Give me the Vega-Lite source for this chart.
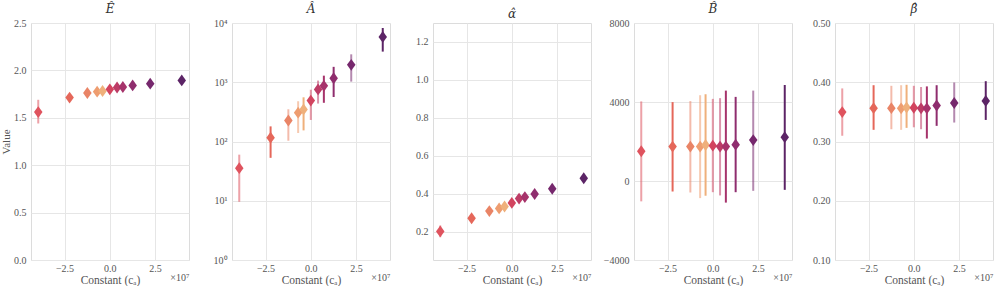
{
  "$schema": "https://vega.github.io/schema/vega-lite/v6.json",
  "padding": {"left": 0, "top": 2, "right": 0, "bottom": 0},
  "bounds": "flush",
  "spacing": 43,
  "data": {"values": [
    {"param":"E","run":1,"ca":-39500000,"value":1.56,"lo":1.44,"hi":1.69,"batch":"A"},
    {"param":"E","run":2,"ca":-22200000,"value":1.713,"lo":1.68,"hi":1.75,"batch":"B"},
    {"param":"E","run":3,"ca":-12400000,"value":1.762,"lo":1.73,"hi":1.79,"batch":"A"},
    {"param":"E","run":4,"ca":-7000000,"value":1.776,"lo":1.75,"hi":1.80,"batch":"A"},
    {"param":"E","run":5,"ca":-4000000,"value":1.783,"lo":1.76,"hi":1.81,"batch":"B"},
    {"param":"E","run":6,"ca":0,"value":1.80,"lo":1.78,"hi":1.82,"batch":"A"},
    {"param":"E","run":7,"ca":4000000,"value":1.82,"lo":1.80,"hi":1.84,"batch":"A"},
    {"param":"E","run":8,"ca":7200000,"value":1.825,"lo":1.80,"hi":1.85,"batch":"B"},
    {"param":"E","run":9,"ca":12600000,"value":1.842,"lo":1.82,"hi":1.87,"batch":"B"},
    {"param":"E","run":10,"ca":22300000,"value":1.86,"lo":1.84,"hi":1.89,"batch":"A"},
    {"param":"E","run":11,"ca":39700000,"value":1.894,"lo":1.87,"hi":1.92,"batch":"B"},
    {"param":"A","run":1,"ca":-39500000,"value":35.5,"lo":9.6,"hi":60,"batch":"A"},
    {"param":"A","run":2,"ca":-22200000,"value":116,"lo":53,"hi":180,"batch":"B"},
    {"param":"A","run":3,"ca":-12400000,"value":226,"lo":103,"hi":350,"batch":"A"},
    {"param":"A","run":4,"ca":-7000000,"value":307,"lo":139,"hi":478,"batch":"A"},
    {"param":"A","run":5,"ca":-4000000,"value":348,"lo":154,"hi":557,"batch":"B"},
    {"param":"A","run":6,"ca":0,"value":491,"lo":231,"hi":748,"batch":"A"},
    {"param":"A","run":7,"ca":4000000,"value":757,"lo":437,"hi":1067,"batch":"A"},
    {"param":"A","run":8,"ca":7200000,"value":871,"lo":450,"hi":1292,"batch":"B"},
    {"param":"A","run":9,"ca":12600000,"value":1170,"lo":564,"hi":1820,"batch":"B"},
    {"param":"A","run":10,"ca":22300000,"value":1967,"lo":1025,"hi":2960,"batch":"A"},
    {"param":"A","run":11,"ca":39700000,"value":5830,"lo":3290,"hi":8230,"batch":"B"},
    {"param":"alpha","run":1,"ca":-39500000,"value":0.2007,"lo":0.17,"hi":0.232,"batch":"A"},
    {"param":"alpha","run":2,"ca":-22200000,"value":0.27,"lo":0.255,"hi":0.285,"batch":"B"},
    {"param":"alpha","run":3,"ca":-12400000,"value":0.308,"lo":0.293,"hi":0.323,"batch":"A"},
    {"param":"alpha","run":4,"ca":-7000000,"value":0.322,"lo":0.307,"hi":0.337,"batch":"A"},
    {"param":"alpha","run":5,"ca":-4000000,"value":0.332,"lo":0.317,"hi":0.347,"batch":"B"},
    {"param":"alpha","run":6,"ca":0,"value":0.351,"lo":0.336,"hi":0.366,"batch":"A"},
    {"param":"alpha","run":7,"ca":4000000,"value":0.374,"lo":0.359,"hi":0.389,"batch":"A"},
    {"param":"alpha","run":8,"ca":7200000,"value":0.382,"lo":0.366,"hi":0.398,"batch":"B"},
    {"param":"alpha","run":9,"ca":12600000,"value":0.398,"lo":0.383,"hi":0.413,"batch":"B"},
    {"param":"alpha","run":10,"ca":22300000,"value":0.426,"lo":0.411,"hi":0.441,"batch":"A"},
    {"param":"alpha","run":11,"ca":39700000,"value":0.481,"lo":0.465,"hi":0.497,"batch":"B"},
    {"param":"B","run":1,"ca":-39500000,"value":1507,"lo":-1030,"hi":4030,"batch":"A"},
    {"param":"B","run":2,"ca":-22200000,"value":1741,"lo":-532,"hi":3995,"batch":"B"},
    {"param":"B","run":3,"ca":-12400000,"value":1741,"lo":-582,"hi":4045,"batch":"A"},
    {"param":"B","run":4,"ca":-7000000,"value":1741,"lo":-866,"hi":4343,"batch":"A"},
    {"param":"B","run":5,"ca":-4000000,"value":1821,"lo":-746,"hi":4393,"batch":"B"},
    {"param":"B","run":6,"ca":0,"value":1791,"lo":-567,"hi":4159,"batch":"A"},
    {"param":"B","run":7,"ca":4000000,"value":1741,"lo":-731,"hi":4194,"batch":"A"},
    {"param":"B","run":8,"ca":7200000,"value":1741,"lo":-1094,"hi":4577,"batch":"B"},
    {"param":"B","run":9,"ca":12600000,"value":1841,"lo":-567,"hi":4259,"batch":"B"},
    {"param":"B","run":10,"ca":22300000,"value":2070,"lo":-498,"hi":4577,"batch":"A"},
    {"param":"B","run":11,"ca":39700000,"value":2219,"lo":-448,"hi":4861,"batch":"B"},
    {"param":"beta","run":1,"ca":-39500000,"value":0.3497,"lo":0.3097,"hi":0.3896,"batch":"A"},
    {"param":"beta","run":2,"ca":-22200000,"value":0.3563,"lo":0.3197,"hi":0.395,"batch":"B"},
    {"param":"beta","run":3,"ca":-12400000,"value":0.3563,"lo":0.3207,"hi":0.394,"batch":"A"},
    {"param":"beta","run":4,"ca":-7000000,"value":0.356,"lo":0.3197,"hi":0.395,"batch":"A"},
    {"param":"beta","run":5,"ca":-4000000,"value":0.3574,"lo":0.323,"hi":0.3957,"batch":"B"},
    {"param":"beta","run":6,"ca":0,"value":0.357,"lo":0.324,"hi":0.394,"batch":"A"},
    {"param":"beta","run":7,"ca":4000000,"value":0.356,"lo":0.3207,"hi":0.392,"batch":"A"},
    {"param":"beta","run":8,"ca":7200000,"value":0.356,"lo":0.305,"hi":0.393,"batch":"B"},
    {"param":"beta","run":9,"ca":12600000,"value":0.3607,"lo":0.3264,"hi":0.395,"batch":"B"},
    {"param":"beta","run":10,"ca":22300000,"value":0.365,"lo":0.332,"hi":0.3996,"batch":"A"},
    {"param":"beta","run":11,"ca":39700000,"value":0.3685,"lo":0.3364,"hi":0.4018,"batch":"B"}
  ]},
  "hconcat": [
    {
      "width": 158, "height": 237,
      "title": {"text": "Ê"},
      "transform": [{"filter": "datum.param === 'E'"}],
      "encoding": {
        "x": {"field": "ca", "type": "quantitative",
          "scale": {"domain": [-43500000, 43700000], "nice": false, "zero": false},
          "axis": {"values": [-25000000, 0, 25000000, 43700000], "title": "Constant (cₐ)", "labelFlush": false, "labelOverlap": false,
            "labelExpr": "datum.value > 40000000 ? '×10⁷' : format(datum.value/1e7, '.1f')",
            "labelAlign": {"condition": {"test": "datum.value > 40000000", "value": "right"}, "value": "center"},
            "labelPadding": {"condition": {"test": "datum.value > 40000000", "value": 12}, "value": 3},
            "gridOpacity": {"condition": {"test": "datum.value > 40000000", "value": 0}, "value": 1}}},
        "color": {"field": "run", "type": "nominal", "legend": null,
          "scale": {"domain": [1,2,3,4,5,6,7,8,9,10,11], "range": ["#df535e","#e5675a","#e98466","#ee9d70","#efb07b","#d2445f","#bd3c66","#a6336b","#8f2d6e","#76286d","#5c2466"]}}
      },
      "layer": [
        {"mark": {"type": "rule", "strokeWidth": 2},
         "encoding": {
           "y": {"field": "lo", "type": "quantitative", "scale": {"domain": [0, 2.5], "nice": false, "zero": false},
             "axis": {"title": "Value", "values": [0, 0.5, 1, 1.5, 2, 2.5], "format": ".1f", "titlePadding": 2, "titleFontSize": 11}},
           "y2": {"field": "hi"},
           "opacity": {"field": "batch", "type": "nominal", "legend": null, "scale": {"domain": ["A", "B"], "range": [0.55, 1]}}}},
        {"mark": {"type": "point", "filled": true, "opacity": 1, "size": 140, "shape": "M0,-1L0.72,0L0,1L-0.72,0Z"},
         "encoding": {"y": {"field": "value", "type": "quantitative"}}}
      ]
    },
    {
      "width": 158, "height": 237,
      "title": {"text": "Â"},
      "transform": [{"filter": "datum.param === 'A'"}],
      "encoding": {
        "x": {"field": "ca", "type": "quantitative",
          "scale": {"domain": [-43500000, 43700000], "nice": false, "zero": false},
          "axis": {"values": [-25000000, 0, 25000000, 43700000], "title": "Constant (cₐ)", "labelFlush": false, "labelOverlap": false,
            "labelExpr": "datum.value > 40000000 ? '×10⁷' : format(datum.value/1e7, '.1f')",
            "labelAlign": {"condition": {"test": "datum.value > 40000000", "value": "right"}, "value": "center"},
            "labelPadding": {"condition": {"test": "datum.value > 40000000", "value": 12}, "value": 3},
            "gridOpacity": {"condition": {"test": "datum.value > 40000000", "value": 0}, "value": 1}}},
        "color": {"field": "run", "type": "nominal", "legend": null,
          "scale": {"domain": [1,2,3,4,5,6,7,8,9,10,11], "range": ["#df535e","#e5675a","#e98466","#ee9d70","#efb07b","#d2445f","#bd3c66","#a6336b","#8f2d6e","#76286d","#5c2466"]}}
      },
      "layer": [
        {"mark": {"type": "rule", "strokeWidth": 2},
         "encoding": {
           "y": {"field": "lo", "type": "quantitative", "scale": {"type": "log", "domain": [1, 10000], "nice": false},
             "axis": {"title": null, "values": [1, 10, 100, 1000, 10000], "labelOverlap": false,
               "labelExpr": "'10' + ['⁰','¹','²','³','⁴'][round(log(datum.value)/LN10)]"}},
           "y2": {"field": "hi"},
           "opacity": {"field": "batch", "type": "nominal", "legend": null, "scale": {"domain": ["A", "B"], "range": [0.55, 1]}}}},
        {"mark": {"type": "point", "filled": true, "opacity": 1, "size": 140, "shape": "M0,-1L0.72,0L0,1L-0.72,0Z"},
         "encoding": {"y": {"field": "value", "type": "quantitative"}}}
      ]
    },
    {
      "width": 158, "height": 237,
      "title": {"text": "α̂"},
      "transform": [{"filter": "datum.param === 'alpha'"}],
      "encoding": {
        "x": {"field": "ca", "type": "quantitative",
          "scale": {"domain": [-43500000, 43700000], "nice": false, "zero": false},
          "axis": {"values": [-25000000, 0, 25000000, 43700000], "title": "Constant (cₐ)", "labelFlush": false, "labelOverlap": false,
            "labelExpr": "datum.value > 40000000 ? '×10⁷' : format(datum.value/1e7, '.1f')",
            "labelAlign": {"condition": {"test": "datum.value > 40000000", "value": "right"}, "value": "center"},
            "labelPadding": {"condition": {"test": "datum.value > 40000000", "value": 12}, "value": 3},
            "gridOpacity": {"condition": {"test": "datum.value > 40000000", "value": 0}, "value": 1}}},
        "color": {"field": "run", "type": "nominal", "legend": null,
          "scale": {"domain": [1,2,3,4,5,6,7,8,9,10,11], "range": ["#df535e","#e5675a","#e98466","#ee9d70","#efb07b","#d2445f","#bd3c66","#a6336b","#8f2d6e","#76286d","#5c2466"]}}
      },
      "layer": [
        {"mark": {"type": "rule", "strokeWidth": 2},
         "encoding": {
           "y": {"field": "lo", "type": "quantitative", "scale": {"domain": [0.05, 1.3], "nice": false, "zero": false},
             "axis": {"title": null, "values": [0.2, 0.4, 0.6, 0.8, 1.0, 1.2], "format": ".1f"}},
           "y2": {"field": "hi"},
           "opacity": {"field": "batch", "type": "nominal", "legend": null, "scale": {"domain": ["A", "B"], "range": [0.55, 1]}}}},
        {"mark": {"type": "point", "filled": true, "opacity": 1, "size": 140, "shape": "M0,-1L0.72,0L0,1L-0.72,0Z"},
         "encoding": {"y": {"field": "value", "type": "quantitative"}}}
      ]
    },
    {
      "width": 158, "height": 237,
      "title": {"text": "B̂"},
      "transform": [{"filter": "datum.param === 'B'"}],
      "encoding": {
        "x": {"field": "ca", "type": "quantitative",
          "scale": {"domain": [-43500000, 43700000], "nice": false, "zero": false},
          "axis": {"values": [-25000000, 0, 25000000, 43700000], "title": "Constant (cₐ)", "labelFlush": false, "labelOverlap": false,
            "labelExpr": "datum.value > 40000000 ? '×10⁷' : format(datum.value/1e7, '.1f')",
            "labelAlign": {"condition": {"test": "datum.value > 40000000", "value": "right"}, "value": "center"},
            "labelPadding": {"condition": {"test": "datum.value > 40000000", "value": 12}, "value": 3},
            "gridOpacity": {"condition": {"test": "datum.value > 40000000", "value": 0}, "value": 1}}},
        "color": {"field": "run", "type": "nominal", "legend": null,
          "scale": {"domain": [1,2,3,4,5,6,7,8,9,10,11], "range": ["#df535e","#e5675a","#e98466","#ee9d70","#efb07b","#d2445f","#bd3c66","#a6336b","#8f2d6e","#76286d","#5c2466"]}}
      },
      "layer": [
        {"mark": {"type": "rule", "strokeWidth": 2},
         "encoding": {
           "y": {"field": "lo", "type": "quantitative", "scale": {"domain": [-4000, 8000], "nice": false, "zero": false},
             "axis": {"title": null, "values": [-4000, -2000, 0, 2000, 4000, 6000, 8000], "format": "d"}},
           "y2": {"field": "hi"},
           "opacity": {"field": "batch", "type": "nominal", "legend": null, "scale": {"domain": ["A", "B"], "range": [0.55, 1]}}}},
        {"mark": {"type": "point", "filled": true, "opacity": 1, "size": 140, "shape": "M0,-1L0.72,0L0,1L-0.72,0Z"},
         "encoding": {"y": {"field": "value", "type": "quantitative"}}}
      ]
    },
    {
      "width": 158, "height": 237,
      "title": {"text": "β̂"},
      "transform": [{"filter": "datum.param === 'beta'"}],
      "encoding": {
        "x": {"field": "ca", "type": "quantitative",
          "scale": {"domain": [-43500000, 43700000], "nice": false, "zero": false},
          "axis": {"values": [-25000000, 0, 25000000, 43700000], "title": "Constant (cₐ)", "labelFlush": false, "labelOverlap": false,
            "labelExpr": "datum.value > 40000000 ? '×10⁷' : format(datum.value/1e7, '.1f')",
            "labelAlign": {"condition": {"test": "datum.value > 40000000", "value": "right"}, "value": "center"},
            "labelPadding": {"condition": {"test": "datum.value > 40000000", "value": 12}, "value": 3},
            "gridOpacity": {"condition": {"test": "datum.value > 40000000", "value": 0}, "value": 1}}},
        "color": {"field": "run", "type": "nominal", "legend": null,
          "scale": {"domain": [1,2,3,4,5,6,7,8,9,10,11], "range": ["#df535e","#e5675a","#e98466","#ee9d70","#efb07b","#d2445f","#bd3c66","#a6336b","#8f2d6e","#76286d","#5c2466"]}}
      },
      "layer": [
        {"mark": {"type": "rule", "strokeWidth": 2},
         "encoding": {
           "y": {"field": "lo", "type": "quantitative", "scale": {"domain": [0.1, 0.5], "nice": false, "zero": false},
             "axis": {"title": null, "values": [0.1, 0.15, 0.2, 0.25, 0.3, 0.35, 0.4, 0.45, 0.5], "format": ".2f"}},
           "y2": {"field": "hi"},
           "opacity": {"field": "batch", "type": "nominal", "legend": null, "scale": {"domain": ["A", "B"], "range": [0.55, 1]}}}},
        {"mark": {"type": "point", "filled": true, "opacity": 1, "size": 140, "shape": "M0,-1L0.72,0L0,1L-0.72,0Z"},
         "encoding": {"y": {"field": "value", "type": "quantitative"}}}
      ]
    }
  ],
  "config": {
    "font": "Liberation Serif",
    "background": "white",
    "view": {"stroke": "#dcdcdc", "strokeWidth": 1},
    "axis": {"ticks": false, "domain": false, "grid": true, "gridColor": "#e6e6e6", "gridWidth": 1,
      "labelFont": "Liberation Serif", "labelFontSize": 10, "labelColor": "#555555",
      "titleFont": "Liberation Serif", "titleFontSize": 11.5, "titleFontWeight": "normal", "titleColor": "#555555"},
    "axisY": {"labelPadding": 5},
    "axisX": {"titlePadding": 1, "minExtent": 13, "maxExtent": 13},
    "title": {"font": "DejaVu Serif", "fontSize": 12, "fontStyle": "italic", "fontWeight": "normal", "color": "#333333", "offset": 2, "frame": "group"}
  }
}
